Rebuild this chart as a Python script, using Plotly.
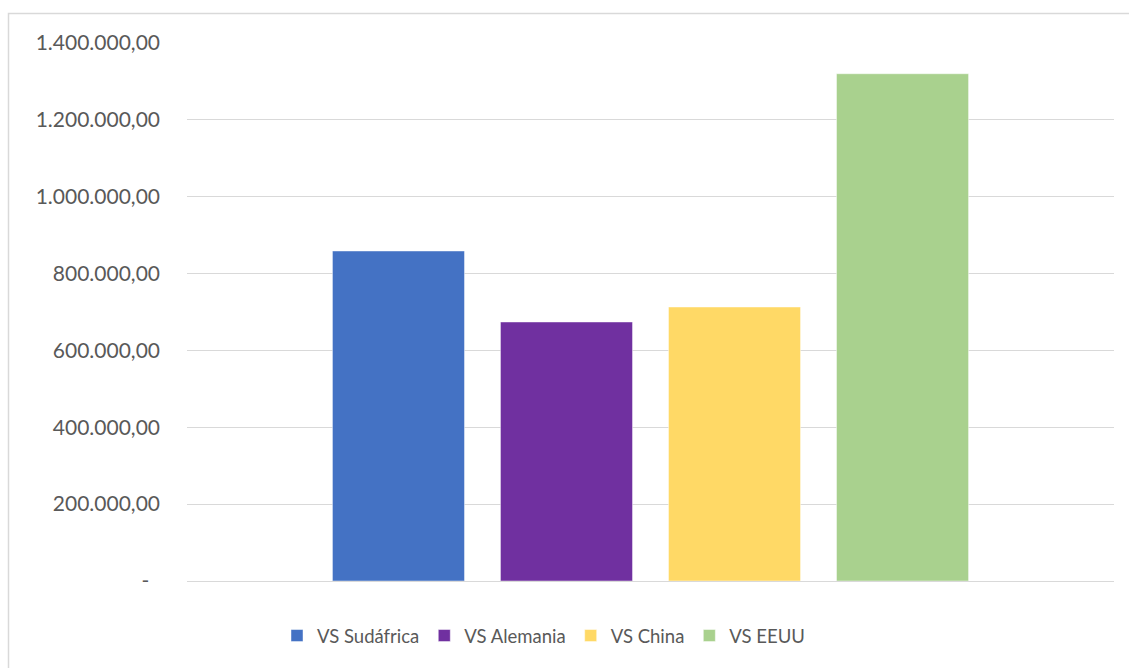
import plotly.graph_objects as go

# Series (one bar each, single unnamed category)
series = ["VS Sudáfrica", "VS Alemania", "VS China", "VS EEUU"]
values = [858700, 674000, 713000, 1320000]
colors = ["#4472C4", "#7030A0", "#FFD966", "#A9D18E"]

# Y axis ticks
tick_values = [0, 200000, 400000, 600000, 800000, 1000000, 1200000, 1400000]
tick_labels = ["-\u00a0\u00a0", "200.000,00", "400.000,00", "600.000,00", "800.000,00",
               "1.000.000,00", "1.200.000,00", "1.400.000,00"]

FONT = "Lato"
TEXT = "#595959"
GRID = "#D9D9D9"

fig = go.Figure()
for name, val, col in zip(series, values, colors):
    fig.add_trace(go.Bar(
        x=[""], y=[val], name=name,
        marker=dict(color=col, line=dict(color="rgba(255,255,255,0.45)", width=1)),
    ))

W, H = 1129, 668
L, R, T, B = 187, 15, 43, 87
pw, ph = W - L - R, H - T - B

def px(x):
    return (x - L) / pw

def py(y):
    return (H - B - y) / ph

fig.update_layout(
    width=W, height=H,
    margin=dict(l=L, r=R, t=T, b=B),
    paper_bgcolor="white", plot_bgcolor="white",
    barmode="group", bargap=0.275, bargroupgap=0.214,
    font=dict(family=FONT, color=TEXT, size=20),
    showlegend=True,
    legend=dict(
        orientation="h", x=px(277), xanchor="left", y=py(636), yanchor="middle",
        font=dict(family=FONT, size=18.5, color=TEXT),
        itemwidth=30, traceorder="normal", bgcolor="rgba(0,0,0,0)",
    ),
    xaxis=dict(showticklabels=False, showgrid=False, zeroline=False,
               showline=False, ticks=""),
    yaxis=dict(range=[0, 1400000], tickvals=tick_values, ticktext=tick_labels,
               showgrid=True, gridcolor=GRID, gridwidth=1.3,
               zeroline=True, zerolinecolor=GRID, zerolinewidth=1.3,
               showline=False, ticks="", ticklabelstandoff=26,
               tickfont=dict(family=FONT, size=21, color=TEXT)),
    shapes=[dict(type="rect", xref="paper", yref="paper",
                 x0=px(8.5), x1=px(1140), y0=py(690), y1=py(13.5),
                 line=dict(color=GRID, width=1.5), fillcolor="rgba(0,0,0,0)",
                 layer="below")],
)

fig.write_html("out.html")
